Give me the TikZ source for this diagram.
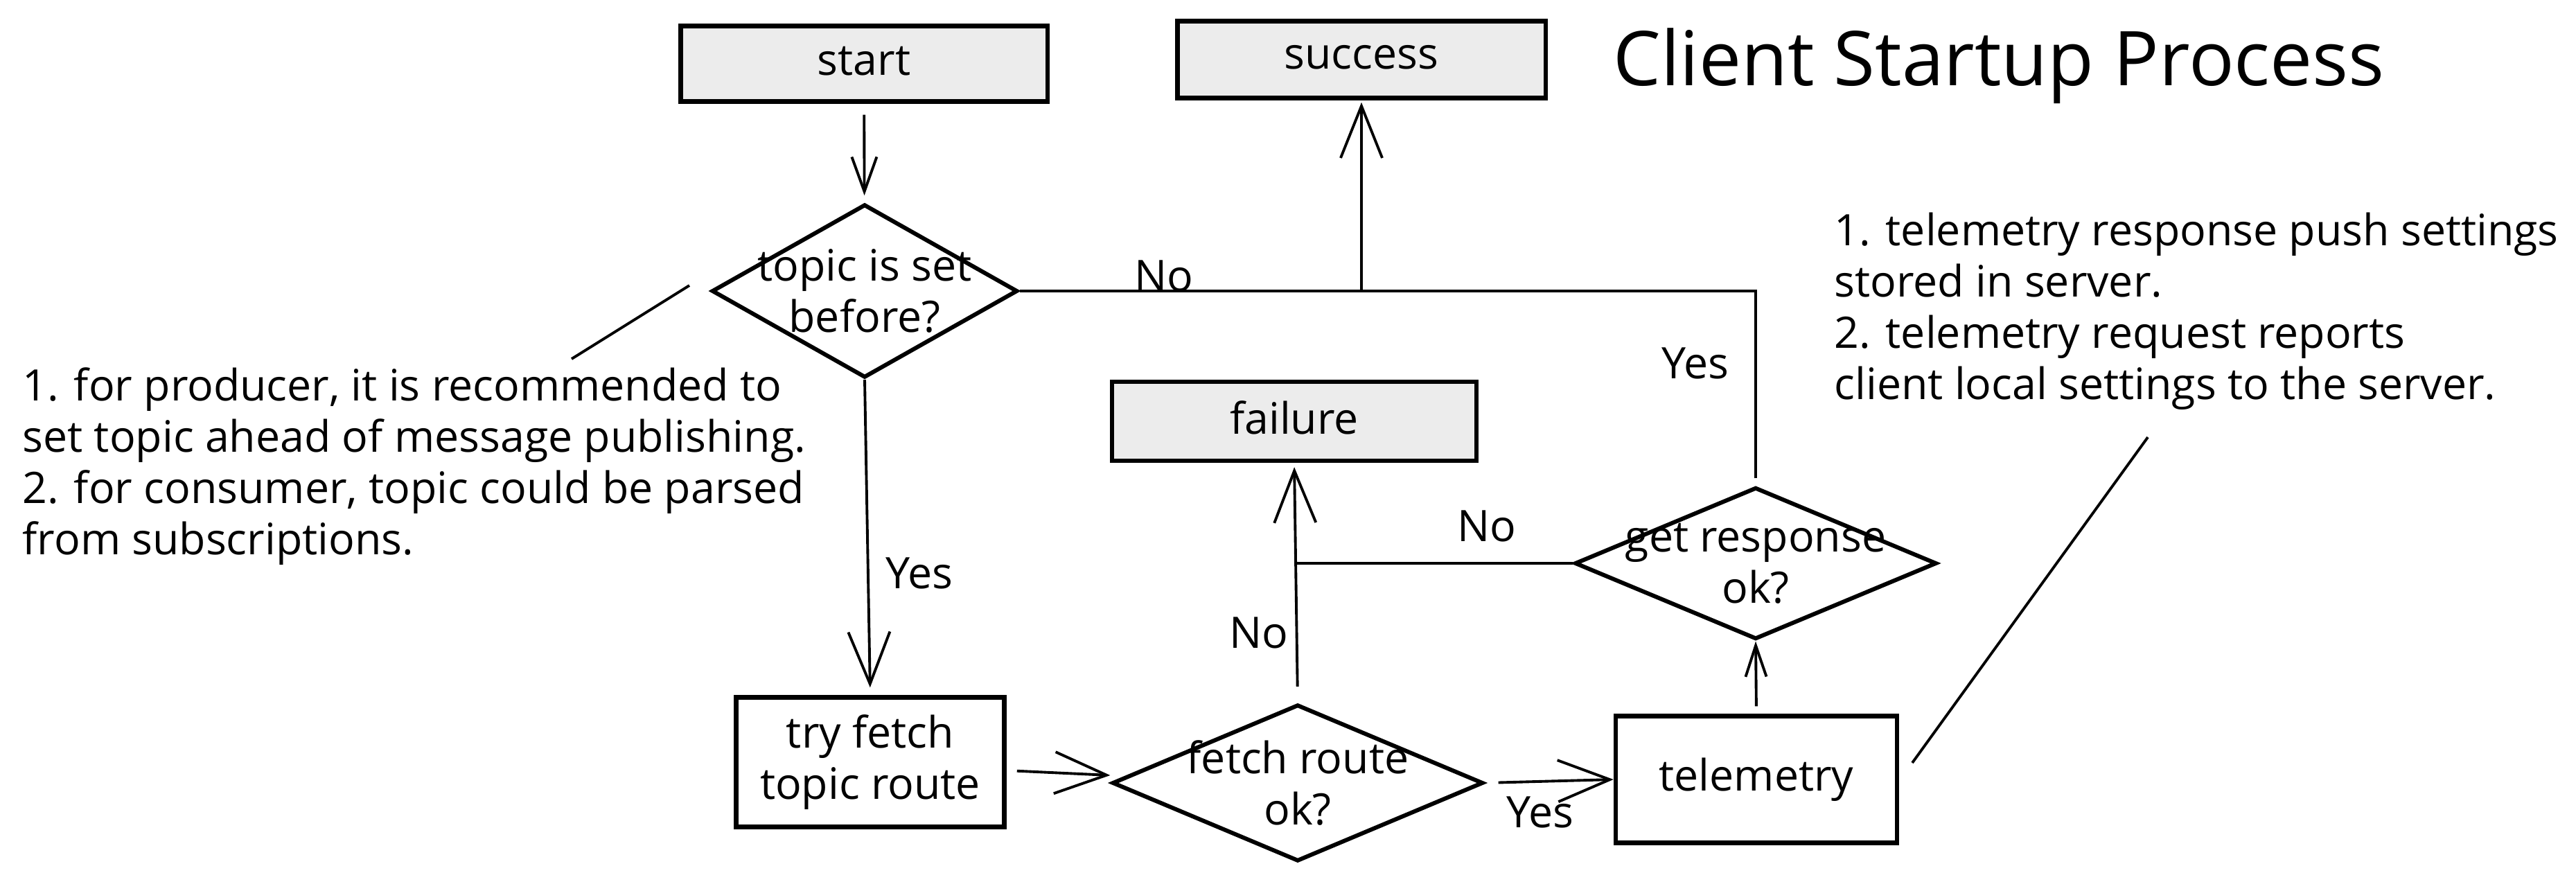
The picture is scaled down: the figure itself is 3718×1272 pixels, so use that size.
\documentclass[tikz,border=0pt]{standalone}
\usepackage{fontspec}
\setmainfont{Open Sans}
\usetikzlibrary{arrows.meta,shapes.geometric}
\definecolor{boxfill}{RGB}{236,236,236}
\begin{document}
\begin{tikzpicture}[x=0.01cm,y=-0.01cm,
  font=\fontsize{17.8}{21}\selectfont,
  gbox/.style={rectangle, draw=black, line width=1.8pt, fill=boxfill, inner sep=0pt},
  wbox/.style={rectangle, draw=black, line width=1.8pt, inner sep=0pt, align=center},
  dia/.style={diamond, draw=black, line width=1.7pt, inner sep=0pt},
  lab/.style={align=center, inner sep=0pt},
  conn/.style={line width=1.1pt},
  arr/.style={conn, -{Straight Barb[length=0.75cm,width=0.6cm]}},
  smallarr/.style={conn, -{Straight Barb[length=0.5cm,width=0.36cm]}},
  note/.style={anchor=west, align=left, inner sep=0pt},
  elabel/.style={inner sep=0pt}
]
\useasboundingbox (0,0) rectangle (3718,1272);

% title
\node[font=\fontsize{31}{36}\selectfont] (title) at (2885,95) {Client Startup Process};

% boxes
\node[gbox, minimum width=5.29cm, minimum height=1.09cm] (start) at (1247,92) {\raisebox{0.08cm}{start}};
\node[gbox, minimum width=5.31cm, minimum height=1.11cm] (success) at (1965,86) {\raisebox{0.08cm}{success}};
\node[gbox, minimum width=5.26cm, minimum height=1.14cm] (failure) at (1868,608) {\raisebox{0.1cm}{failure}};
\node[wbox, minimum width=3.87cm, minimum height=1.87cm] (try) at (1256,1100) {try fetch\\topic route};
\node[wbox, minimum width=4.06cm, minimum height=1.83cm] (telemetry) at (2535,1125) {telemetry};

% decisions
\node[dia, minimum width=4.41cm, minimum height=2.50cm,
  label={[lab]center:{topic is set\\before?}}] (topic) at (1248,420) {};
\node[dia, minimum width=5.35cm, minimum height=2.26cm,
  label={[lab]center:{fetch route\\ok?}}] (fetch) at (1873,1130) {};
\node[dia, minimum width=5.22cm, minimum height=2.19cm,
  label={[lab]center:{get response\\ok?}}] (getresp) at (2534,813) {};

% notes
\node[note] (noteL) at (32,673) {1. for producer, it is recommended to\\set topic ahead of message publishing.\\2. for consumer, topic could be parsed\\from subscriptions.};
\node[note] (noteR) at (2647,449) {1. telemetry response push settings\\stored in server.\\2. telemetry request reports\\client local settings to the server.};

\coordinate (nL1) at (825,518);
\coordinate (nL2) at (995,412);
\coordinate (nR1) at (2760,1101);
\coordinate (nR2) at (3100,631);
\draw[conn] (nL1) -- (nL2);
\draw[conn] (nR1) -- (nR2);

% connectors
\draw[smallarr, shorten <=0.16cm, shorten >=0.1cm] (start) -- (topic);
\draw[arr, shorten >=0.11cm] (topic.south) -- (try.north);
\draw[arr, shorten >=0.03cm] (topic.east) -| (success.south);
\coordinate (jS) at (success.south |- topic.east);
\draw[conn, shorten <=0.1cm] (getresp.north) |- (jS);
\draw[arr, shorten <=0.15cm] ([yshift=-0.12cm]try.east) -- ([yshift=0.11cm]fetch.west);
\draw[arr, shorten <=0.19cm] (fetch.east) -- (telemetry.west);
\draw[conn, -{Straight Barb[length=0.45cm,width=0.3cm]}, shorten <=0.11cm] (telemetry.north) -- (getresp.south);
\draw[arr, shorten <=0.23cm, shorten >=0.06cm] (fetch.north) -- (failure.south);
\coordinate (jF) at (failure.south |- getresp.west);
\draw[conn] (getresp.west) -- (jF);

% edge labels
\node[elabel] (lNo1) at (1680,398) {No};
\node[elabel] (lYes1) at (1327,827) {Yes};
\node[elabel] (lYes2) at (2447,524) {Yes};
\node[elabel] (lNo2) at (2146,759) {No};
\node[elabel] (lNo3) at (1817,913) {No};
\node[elabel] (lYes3) at (2223,1172) {Yes};
\end{tikzpicture}
\end{document}
